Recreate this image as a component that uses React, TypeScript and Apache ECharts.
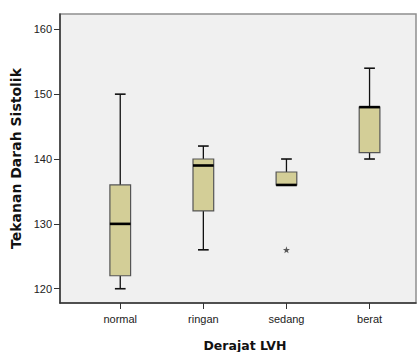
import React, { useEffect, useRef } from "react";
import * as echarts from "echarts";

const categories = ["normal", "ringan", "sedang", "berat"];
const whiskerLow = [120, 126, 136, 140];
const q1 = [122, 132, 136, 141];
const median = [130, 139, 136, 148];
const q3 = [136, 140, 138, 148];
const whiskerHigh = [150, 142, 140, 154];
const outlierCats = ["sedang"];
const outlierValues = [126];
const yTicks = [120, 130, 140, 150, 160];

const Y_MIN = 117.8;
const Y_MAX = 162.36;

const STAR =
  "path://M0 -1 L0.235 -0.324 L0.951 -0.309 L0.380 0.124 L0.588 0.809 L0 0.4 L-0.588 0.809 L-0.380 0.124 L-0.951 -0.309 L-0.235 -0.324 Z";

export default function App() {
  const ref = useRef<HTMLDivElement>(null);
  useEffect(() => {
    if (!ref.current) return;
    const chart = echarts.init(ref.current, undefined, { renderer: "svg" });
    const boxData = categories.map((c, i) => [
      i,
      whiskerLow[i],
      q1[i],
      median[i],
      q3[i],
      whiskerHigh[i],
    ]);
    const outData = outlierCats.map((c, i) => [categories.indexOf(c), outlierValues[i]]);
    const font = "'Liberation Sans', Arial, sans-serif";
    chart.setOption({
      animation: false,
      grid: [
        {
          left: 60,
          top: 14,
          width: 356,
          height: 289,
          show: true,
          backgroundColor: "#f0f0f0",
          borderColor: "#8f8f8f",
          borderWidth: 1.5,
          containLabel: false,
          outerBoundsMode: "none",
        },
        { left: 78.7, top: 14, width: 332.4, height: 289, containLabel: false, outerBoundsMode: "none" },
      ],
      xAxis: [
        {
          gridIndex: 0,
          type: "value",
          min: 0,
          max: 1,
          axisLine: { show: true, lineStyle: { color: "#333", width: 1.5 } },
          axisTick: { show: false },
          axisLabel: { show: false },
          splitLine: { show: false },
        },
        {
          gridIndex: 1,
          type: "category",
          data: categories,
          axisLine: { show: false },
          axisTick: { show: true, alignWithLabel: true, length: 6, lineStyle: { color: "#333" } },
          axisLabel: { color: "#222", fontSize: 11, fontFamily: font, margin: 10 },
          name: "Derajat LVH",
          nameLocation: "middle",
          nameGap: 36,
          nameTextStyle: {
            fontFamily: "'DejaVu Sans', Verdana, sans-serif",
            fontWeight: "bold",
            fontSize: 12.5,
            color: "#111",
          },
          splitLine: { show: false },
        },
      ],
      yAxis: [
        {
          gridIndex: 0,
          type: "value",
          min: Y_MIN,
          max: Y_MAX,
          axisLine: { show: true, lineStyle: { color: "#333", width: 1.5 } },
          axisTick: { show: true, length: 6, customValues: yTicks, lineStyle: { color: "#333" } },
          axisLabel: { color: "#222", fontSize: 11, fontFamily: font, margin: 8, customValues: yTicks },
          splitLine: { show: false },
          name: "Tekanan Darah Sistolik",
          nameLocation: "middle",
          nameGap: 34,
          nameTextStyle: {
            fontFamily: "'DejaVu Sans', Verdana, sans-serif",
            fontWeight: "bold",
            fontSize: 14,
            color: "#111",
          },
        },
        {
          gridIndex: 1,
          type: "value",
          min: Y_MIN,
          max: Y_MAX,
          show: false,
          splitLine: { show: false },
        },
      ],
      series: [
        {
          type: "custom",
          xAxisIndex: 1,
          yAxisIndex: 1,
          data: boxData,
          renderItem: (params: any, api: any) => {
            const x = api.value(0);
            const pLow = api.coord([x, api.value(1)]);
            const pQ1 = api.coord([x, api.value(2)]);
            const pMed = api.coord([x, api.value(3)]);
            const pQ3 = api.coord([x, api.value(4)]);
            const pHigh = api.coord([x, api.value(5)]);
            const cx = pLow[0];
            const boxW = 20.7;
            const capW = 10.7;
            const lineStyle = { stroke: "#111", lineWidth: 1.3 };
            return {
              type: "group",
              children: [
                { type: "line", shape: { x1: cx, y1: pHigh[1], x2: cx, y2: pQ3[1] }, style: lineStyle },
                { type: "line", shape: { x1: cx, y1: pQ1[1], x2: cx, y2: pLow[1] }, style: lineStyle },
                { type: "line", shape: { x1: cx - capW / 2, y1: pHigh[1], x2: cx + capW / 2, y2: pHigh[1] }, style: { stroke: "#111", lineWidth: 1.6 } },
                { type: "line", shape: { x1: cx - capW / 2, y1: pLow[1], x2: cx + capW / 2, y2: pLow[1] }, style: { stroke: "#111", lineWidth: 1.6 } },
                {
                  type: "rect",
                  shape: { x: cx - boxW / 2, y: pQ3[1], width: boxW, height: Math.max(pQ1[1] - pQ3[1], 0.5) },
                  style: { fill: "#d3ce97", stroke: "#555", lineWidth: 1.2 },
                },
                { type: "line", shape: { x1: cx - boxW / 2, y1: pMed[1], x2: cx + boxW / 2, y2: pMed[1] }, style: { stroke: "#000", lineWidth: 2.6 } },
              ],
            };
          },
        },
        {
          type: "scatter",
          xAxisIndex: 1,
          yAxisIndex: 1,
          data: outData,
          symbol: STAR,
          symbolSize: 7,
          itemStyle: { color: "#333" },
        },
      ],
    });
    return () => chart.dispose();
  }, []);
  return <div ref={ref} style={{ width: 417, height: 352, position: "absolute", left: 0, top: 0 }} />;
}
